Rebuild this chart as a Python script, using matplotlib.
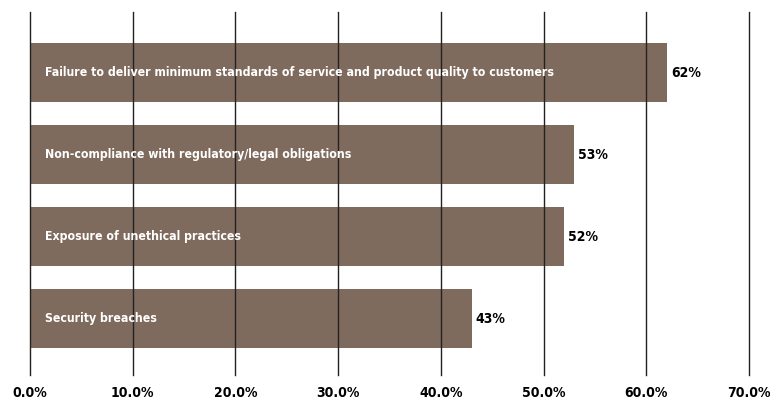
import matplotlib
matplotlib.use('Agg')
import matplotlib.pyplot as plt

categories = [
    'Failure to deliver minimum standards of service and product quality to customers',
    'Non-compliance with regulatory/legal obligations',
    'Exposure of unethical practices',
    'Security breaches',
]
values = [62, 53, 52, 43]
ticks = [0, 10, 20, 30, 40, 50, 60, 70]
tick_labels = ['0.0%', '10.0%', '20.0%', '30.0%', '40.0%', '50.0%', '60.0%', '70.0%']

bar_color = '#7f6b5d'
font = dict(family='DejaVu Sans', fontweight='bold', fontstretch='condensed')

fig = plt.figure(figsize=(7.7, 4.01), dpi=100)
ax = fig.add_axes([30 / 770, 1 - 375 / 401, 719 / 770, 363 / 401])

y = list(range(len(categories)))
ax.barh(y, values, height=0.73, color=bar_color, zorder=1)

for t in ticks:
    ax.axvline(t, color='#222222', lw=1.0, zorder=2, clip_on=False)

for yi, cat, v in zip(y, categories, values):
    ax.text(1.5, yi, cat, color='white', fontsize=8.8, va='center', ha='left',
            zorder=3, **font)
    ax.text(v + 0.4, yi, f'{v}%', color='black', fontsize=10,
            va='center', ha='left', zorder=3, **font)

ax.set_xlim(0, 70)
ax.set_ylim(3.689, -0.738)
ax.set_xticks(ticks)
ax.set_xticklabels(tick_labels, fontsize=10, **font)
ax.tick_params(axis='x', length=0, pad=8)
ax.set_yticks([])
for s in ax.spines.values():
    s.set_visible(False)

fig.savefig('out.png', dpi=100)
